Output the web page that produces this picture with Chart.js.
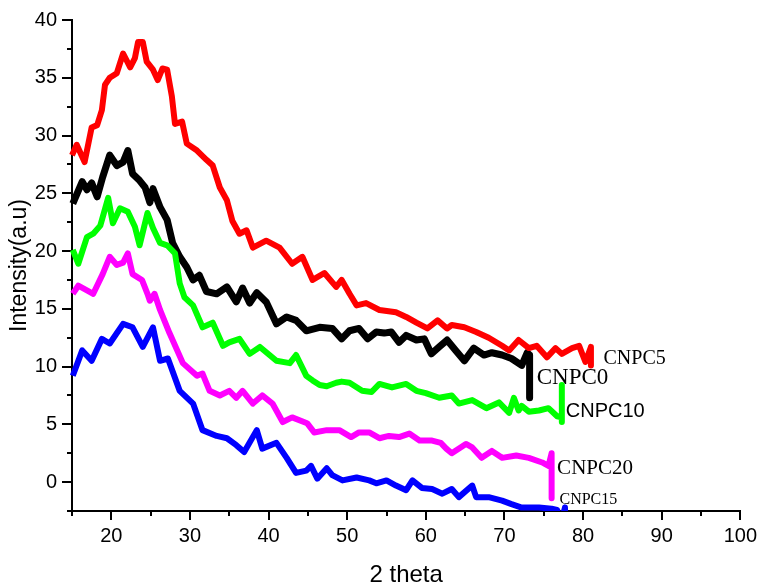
<!DOCTYPE html>
<html>
<head>
<meta charset="utf-8">
<script src="https://cdn.jsdelivr.net/npm/chart.js@4.4.1/dist/chart.umd.min.js"></script>
<style>
  html, body { margin: 0; padding: 0; background: #fff; }
  #wrap { width: 761px; height: 587px; }
</style>
</head>
<body>
<div id="wrap"><canvas id="xrd"></canvas></div>
<script>
// XRD patterns (2 theta, intensity)
const redX = [15.0,15.6,16.6,17.5,18.2,18.8,19.2,19.8,20.7,21.5,22.4,23.0,23.4,24.0,24.5,25.3,25.9,26.5,27.1,27.7,28.1,29.0,29.6,30.9,32.1,32.9,33.8,34.7,35.4,36.3,37.2,38.0,39.7,41.4,43.0,44.3,45.6,47.1,48.6,49.3,50.3,51.2,52.4,54.1,56.2,57.5,58.8,60.2,61.5,62.7,63.3,64.9,66.4,68.0,69.7,70.6,71.8,73.1,74.1,75.4,76.5,77.3,78.6,79.5,80.3,81.0,81.0];
const redY = [28.3,29.2,27.7,30.7,30.9,32.2,34.4,35.0,35.4,37.1,35.9,36.7,38.1,38.1,36.4,35.7,34.8,35.8,35.7,33.4,31.0,31.2,29.3,28.7,27.9,27.4,25.5,24.4,22.6,21.5,21.8,20.3,20.9,20.3,18.9,19.5,17.5,18.1,16.9,17.5,16.3,15.3,15.5,14.9,14.7,14.3,13.8,13.3,14.0,13.3,13.6,13.4,13.0,12.5,11.8,11.4,12.3,11.6,11.8,10.8,11.6,11.1,11.6,11.8,10.4,11.7,10.1];

const blackX = [15.1,16.3,16.9,17.5,18.2,18.9,19.8,20.7,21.5,22.1,22.7,23.6,24.3,24.9,25.3,26.2,27.1,27.8,28.7,29.6,30.4,31.2,32.1,33.4,34.7,35.9,36.7,37.6,38.5,39.7,41.0,42.3,43.5,44.8,46.5,48.1,49.3,50.3,51.5,52.6,53.7,54.7,55.6,56.6,57.5,58.8,59.8,60.7,61.7,62.7,63.8,64.9,66.1,67.4,68.4,69.7,70.9,72.2,72.9,73.2,73.2];
const blackY = [24.1,26.0,25.3,25.9,24.7,26.4,28.3,27.4,27.7,28.7,26.7,26.1,25.5,24.2,25.4,23.8,22.7,20.7,19.5,18.6,17.5,17.9,16.5,16.3,16.9,15.6,16.8,15.5,16.4,15.6,13.7,14.3,14.0,13.1,13.4,13.3,12.4,13.1,13.3,12.4,13.0,12.9,13.0,12.1,12.7,12.3,12.4,11.1,11.7,12.3,11.4,10.5,11.6,11.0,11.2,11.0,10.7,10.1,11.2,11.0,7.3];

const greenX = [15.1,15.8,16.9,17.7,18.6,19.6,20.2,21.1,22.1,23.0,23.6,24.6,25.3,26.2,27.1,28.1,28.7,29.3,30.4,31.6,32.9,34.2,35.0,36.3,37.6,38.9,41.0,42.7,43.5,44.8,45.6,46.5,47.4,48.6,49.3,50.3,51.9,53.1,54.1,55.7,57.5,58.8,60.0,61.7,63.3,64.2,65.9,67.7,69.3,70.6,71.2,71.8,72.2,73.1,74.4,75.6,76.7,77.3,77.3,77.3];
const greenY = [20.1,18.9,21.2,21.5,22.2,24.6,22.4,23.7,23.4,22.1,20.5,23.3,22.0,20.7,20.5,19.8,17.2,16.0,15.3,13.4,13.8,11.8,12.1,12.4,11.1,11.7,10.5,10.3,11.0,9.2,8.8,8.4,8.3,8.6,8.7,8.6,7.9,7.8,8.5,8.2,8.5,7.9,7.7,7.3,7.5,6.8,7.1,6.4,6.9,6.0,7.3,6.2,6.6,6.1,6.2,6.4,5.7,5.6,8.4,5.2];

const magentaX = [15.1,15.8,16.9,17.7,18.9,19.8,20.7,21.5,22.1,22.7,23.9,24.6,24.9,25.5,26.2,27.4,29.1,30.9,31.6,32.5,33.8,35.0,35.9,36.7,38.0,39.2,40.5,41.8,43.0,44.9,45.8,47.4,49.0,50.5,51.5,52.8,54.1,55.3,56.6,57.9,59.2,60.8,61.9,62.6,63.3,65.1,65.9,67.1,68.4,69.7,71.5,73.1,74.8,75.6,76.0,76.0];
const magentaY = [16.3,17.0,16.6,16.3,18.0,19.5,18.8,19.0,19.8,18.0,17.5,16.3,15.7,16.3,14.9,12.9,10.3,9.2,9.4,7.9,7.5,7.9,7.3,7.9,6.8,7.5,6.8,5.2,5.6,5.1,4.3,4.5,4.5,3.9,4.3,4.3,3.8,4.0,3.9,4.2,3.6,3.6,3.4,2.9,2.5,3.3,3.0,2.1,2.7,2.1,2.3,2.1,1.7,1.4,2.5,-1.4];

const blueX = [15.1,16.3,17.5,18.8,19.8,21.5,22.7,24.0,25.3,26.2,27.2,28.7,30.4,31.6,33.4,34.7,35.9,36.9,38.5,39.2,41.0,42.3,43.5,44.8,45.4,46.2,47.4,48.1,49.4,51.2,52.8,53.7,55.0,56.2,57.5,58.3,59.5,60.8,62.1,63.3,64.2,65.9,66.4,68.0,69.7,70.9,72.2,74.4,76.0,76.7,77.2,77.7,77.7];
const blueY = [9.2,11.4,10.5,12.4,12.0,13.7,13.4,11.7,13.4,10.5,10.7,7.9,6.8,4.5,4.0,3.8,3.2,2.6,4.5,2.9,3.4,2.1,0.8,1.0,1.4,0.3,1.2,0.6,0.15,0.4,0.15,-0.1,0.15,-0.3,-0.7,0.15,-0.5,-0.6,-1.0,-0.6,-1.3,-0.3,-1.3,-1.3,-1.6,-1.9,-2.2,-2.2,-2.3,-2.4,-3.5,-2.2,-6];

// axis ticks
const xTicks = [20, 30, 40, 50, 60, 70, 80, 90, 100];
const xMinor = [15, 25, 35, 45, 55, 65, 75, 85, 95];
const yTicks = [0, 5, 10, 15, 20, 25, 30, 35, 40];
const yMinor = [-2.5, 2.5, 7.5, 12.5, 17.5, 22.5, 27.5, 32.5, 37.5];

// sample names written next to the curve ends
const sampleNames = ['CNPC5', 'CNPC0', 'CNPC10', 'CNPC20', 'CNPC15'];

const toPoints = (xs, ys) => xs.map((x, i) => ({ x: x, y: ys[i] }));

const lineSet = (label, xs, ys, color, width) => ({
  label: label,
  data: toPoints(xs, ys),
  borderColor: color,
  backgroundColor: color,
  borderWidth: width,
  pointRadius: 0,
  tension: 0,
  borderJoinStyle: 'round',
  clip: { left: 4, top: 4, right: 4, bottom: 0 },
});

// where each name sits (data units) and how it is written
const nameSpots = [
  { x: 82.6, y: 10.7, font: '20px "Liberation Serif"' },
  { x: 74.1, y: 9.0, font: '23px "Liberation Serif"' },
  { x: 77.8, y: 6.1, font: '20px "Liberation Sans"' },
  { x: 76.7, y: 1.2, font: '21px "Liberation Serif"' },
  { x: 77.0, y: -1.5, font: '16px "Liberation Serif"' },
];

const extras = {
  id: 'extras',
  afterDraw(chart) {
    const ctx = chart.ctx;
    const xs = chart.scales.x;
    const ys = chart.scales.y;
    const area = chart.chartArea;
    ctx.save();
    // minor ticks
    ctx.strokeStyle = '#000';
    ctx.lineWidth = 2;
    ctx.beginPath();
    xMinor.forEach(v => {
      const px = Math.round(xs.getPixelForValue(v));
      ctx.moveTo(px, area.bottom);
      ctx.lineTo(px, area.bottom + 5);
    });
    yMinor.forEach(v => {
      const py = Math.round(ys.getPixelForValue(v));
      ctx.moveTo(area.left, py);
      ctx.lineTo(area.left - 5, py);
    });
    ctx.stroke();
    // curve names
    ctx.fillStyle = '#000';
    ctx.textBaseline = 'middle';
    ctx.textAlign = 'left';
    sampleNames.forEach((name, i) => {
      const s = nameSpots[i];
      ctx.font = s.font;
      ctx.fillText(name, xs.getPixelForValue(s.x), ys.getPixelForValue(s.y));
    });
    ctx.restore();
  }
};

new Chart(document.getElementById('xrd'), {
  type: 'line',
  data: {
    datasets: [
      lineSet('CNPC5', redX, redY, '#ff0000', 6),
      lineSet('CNPC10', greenX, greenY, '#00ff00', 6),
      lineSet('CNPC20', magentaX, magentaY, '#ff00ff', 6),
      lineSet('CNPC15', blueX, blueY, '#0000ff', 6),
      lineSet('CNPC0', blackX, blackY, '#000000', 7),
    ],
  },
  options: {
    responsive: true,
    maintainAspectRatio: false,
    animation: false,
    layout: { padding: { top: 20, right: 19, left: 0, bottom: 0 } },
    plugins: {
      legend: { display: false },
      tooltip: { enabled: false },
    },
    scales: {
      x: {
        type: 'linear',
        min: 15,
        max: 100,
        afterBuildTicks: s => { s.ticks = xTicks.map(v => ({ value: v })); },
        afterFit: s => { s.height = 76; },
        grid: { drawOnChartArea: false, drawTicks: true, tickLength: 9, color: '#000', lineWidth: 2 },
        border: { display: true, color: '#000', width: 2 },
        ticks: { color: '#000', padding: 4, maxRotation: 0, font: { family: '"Liberation Sans"', size: 20 } },
        title: {
          display: true,
          text: '2 theta',
          color: '#000',
          font: { family: '"Liberation Sans"', size: 24, lineHeight: 1.0 },
          padding: { top: 0, bottom: 0 },
        },
      },
      y: {
        type: 'linear',
        min: -2.5,
        max: 40,
        afterBuildTicks: s => { s.ticks = yTicks.map(v => ({ value: v })); },
        afterFit: s => { s.width = 72; },
        grid: { drawOnChartArea: false, drawTicks: true, tickLength: 10, color: '#000', lineWidth: 2 },
        border: { display: true, color: '#000', width: 2 },
        ticks: { color: '#000', padding: 5, font: { family: '"Liberation Sans"', size: 20 } },
        title: {
          display: true,
          text: 'Intensity(a.u)',
          color: '#000',
          font: { family: '"Liberation Sans"', size: 23, lineHeight: 1.2 },
          padding: { top: 6, bottom: 0 },
        },
      },
    },
  },
  plugins: [extras],
});
</script>
</body>
</html>
